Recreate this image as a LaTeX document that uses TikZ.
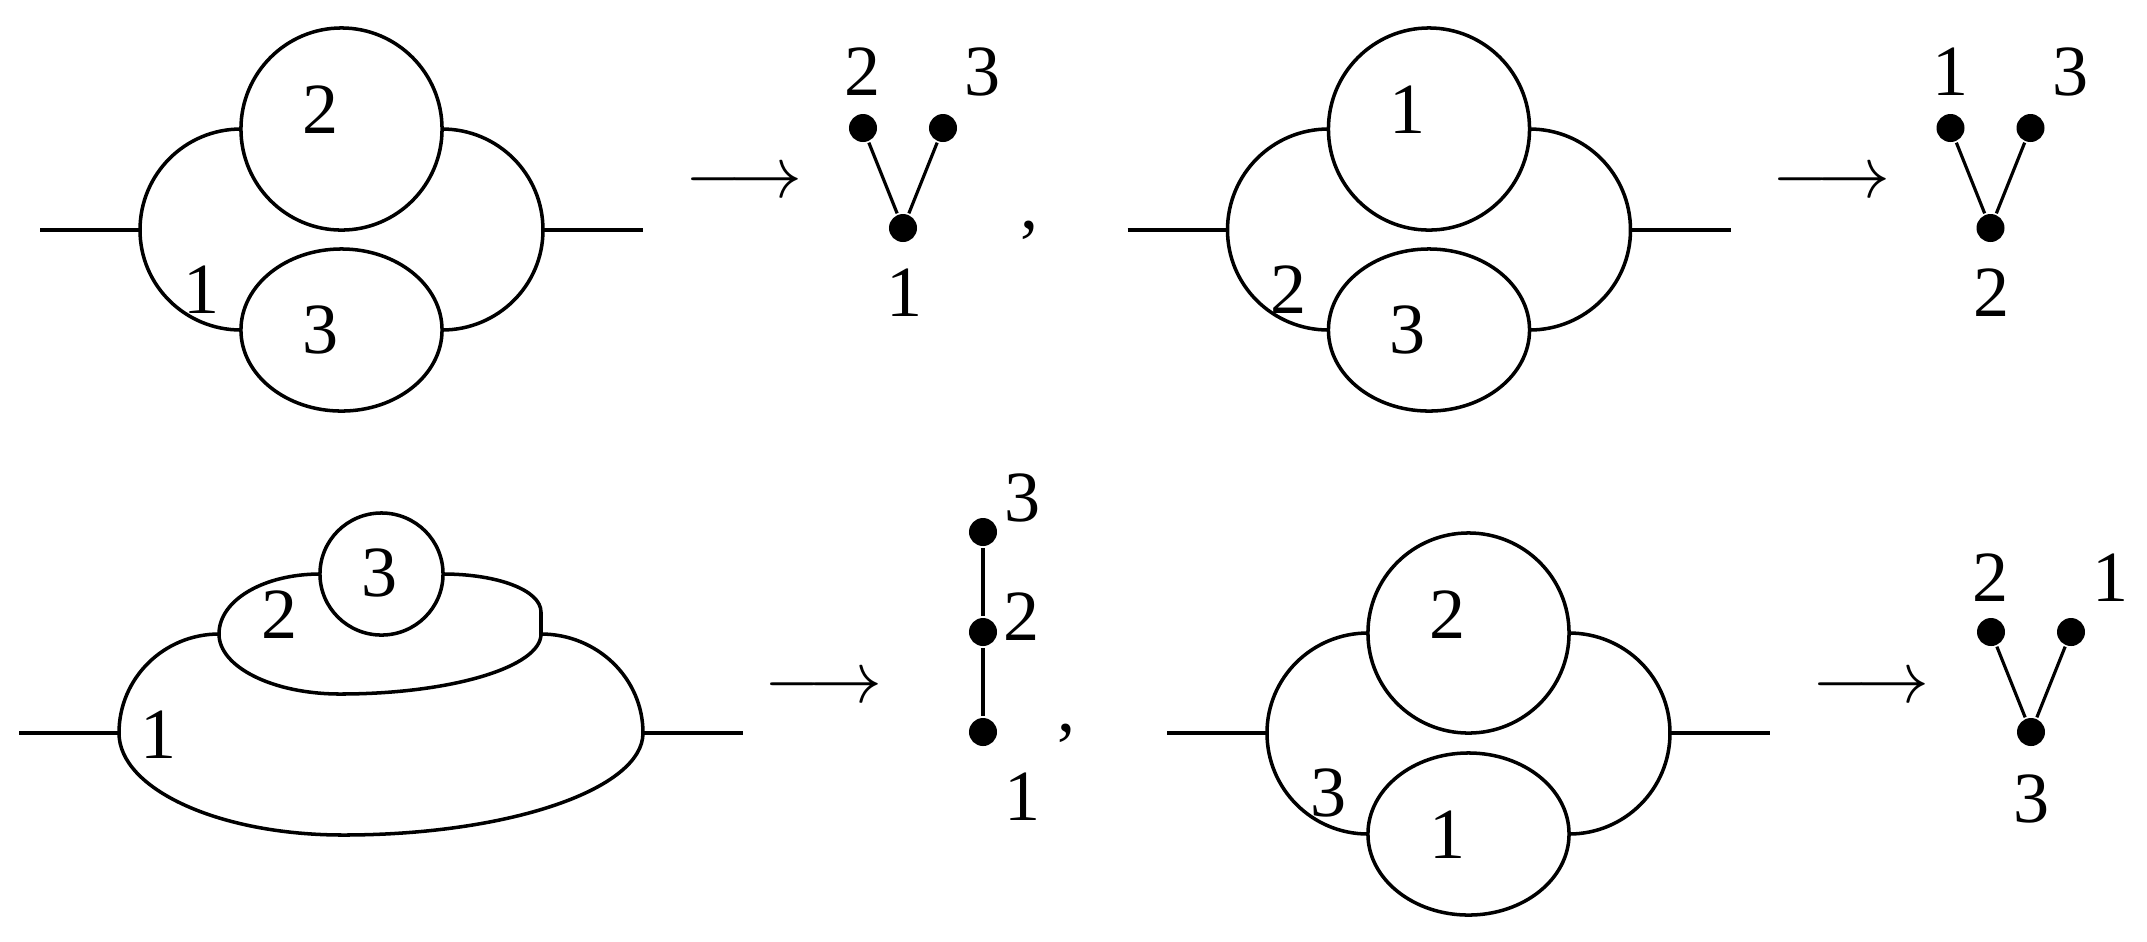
\documentclass[tikz,border=0pt]{standalone}
\usepackage{fontspec}
\setmainfont{Liberation Serif}
\usetikzlibrary{shapes.geometric}
\tikzset{
    blob/.style={ellipse, draw, inner sep=0pt, outer sep=0pt},
    dot/.style={circle, fill, inner sep=0pt, minimum size=0.28cm},
    twig/.style={line width=0.9pt},
    every node/.append style={font=\fontsize{20.5}{24}\selectfont}
}

\begin{document}
\begin{tikzpicture}[x=0.01cm, y=-0.01cm, line width=1pt]
\useasboundingbox (0,0) rectangle (2147,941);
% top left
\begin{scope}[shift={(341.5,230)}]
\coordinate (Al) at (-301.5,0);
\coordinate (Aw) at (-201.5,0);
\coordinate (Ae) at (201.5,0);
\coordinate (Ar) at (301.5,0);
\node[blob, minimum width=2.01cm, minimum height=2.02cm] (At) at (0,-101) {};
\node[blob, minimum width=2.01cm, minimum height=1.62cm] (Ab) at (0,100) {};
\draw (Al) -- (Aw);
\draw (Ae) -- (Ar);
\draw (At.west) to[out=180,in=90] (Aw) to[out=-90,in=180] (Ab.west);
\draw (At.east) to[out=0,in=90] (Ae) to[out=-90,in=0] (Ab.east);
\node at (-21,-120) {2};
\node at (-21,100) {3};
\node at (-140,60) {1};
\node (Aarr) at (402.5,-46) {$\longrightarrow$};
\node[dot] (Ax) at (521.5,-102) {};
\node[dot] (Ay) at (601.5,-102) {};
\node[dot] (Az) at (561.5,-2) {};
\draw[twig] (Ax) -- (Az) -- (Ay);
\node at (521.5,-158) {2};
\node at (641.5,-158) {3};
\node at (563,63) {1};
\node at (688.5,0) {,};
\end{scope}
% top right
\begin{scope}[shift={(1429,230)}]
\coordinate (Bl) at (-301.5,0);
\coordinate (Bw) at (-201.5,0);
\coordinate (Be) at (201.5,0);
\coordinate (Br) at (301.5,0);
\node[blob, minimum width=2.01cm, minimum height=2.02cm] (Bt) at (0,-101) {};
\node[blob, minimum width=2.01cm, minimum height=1.62cm] (Bb) at (0,100) {};
\draw (Bl) -- (Bw);
\draw (Be) -- (Br);
\draw (Bt.west) to[out=180,in=90] (Bw) to[out=-90,in=180] (Bb.west);
\draw (Bt.east) to[out=0,in=90] (Be) to[out=-90,in=0] (Bb.east);
\node at (-21,-120) {1};
\node at (-21,100) {3};
\node at (-140,60) {2};
\node (Barr) at (402.5,-46) {$\longrightarrow$};
\node[dot] (Bx) at (521.5,-102) {};
\node[dot] (By) at (601.5,-102) {};
\node[dot] (Bz) at (561.5,-2) {};
\draw[twig] (Bx) -- (Bz) -- (By);
\node at (521.5,-158) {1};
\node at (641.5,-158) {3};
\node at (563,63) {2};
\end{scope}
% bottom left
\coordinate (Cl) at (19,733);
\coordinate (Cw) at (119,733);
\coordinate (Ce) at (643,733);
\coordinate (Cr) at (743,733);
\coordinate (Cs) at (343,835);
\coordinate (Cm) at (219,634);
\coordinate (Cn) at (340,694);
\coordinate (Cp) at (541,612);
\coordinate (Cq) at (541,634);
\node[blob, minimum width=1.23cm, minimum height=1.22cm] (Ct) at (381.5,574) {};
\draw (Cl) -- (Cw);
\draw (Ce) -- (Cr);
\draw (Ct.west) .. controls +(-56,0) and +(0,-34) .. (Cm)
  .. controls +(0,33) and +(-67,0) .. (Cn)
  .. controls +(111,0) and +(0,33) .. (Cq) -- (Cp)
  .. controls +(0,-22) and +(54,0) .. (Ct.east);
\draw (Cm) .. controls +(-55,0) and +(0,-55) .. (Cw)
  .. controls +(0,56) and +(-124,0) .. (Cs)
  .. controls +(166,0) and +(0,56) .. (Ce)
  .. controls +(0,-55) and +(56,0) .. (Cq);
\node at (380,573) {3};
\node at (280,615) {2};
\node at (159,735) {1};
\node (Carr) at (823.5,689) {$\longrightarrow$};
\node[dot] (Cx) at (983,532) {};
\node[dot] (Cy) at (983,632) {};
\node[dot] (Cz) at (983,732) {};
\draw[twig] (Cx) -- (Cy) -- (Cz);
\node at (1023,498) {3};
\node at (1022,617) {2};
\node at (1023,797) {1};
\node at (1067,733) {,};
% bottom right
\begin{scope}[shift={(1468.5,733)}]
\coordinate (Dl) at (-301.5,0);
\coordinate (Dw) at (-201.5,0);
\coordinate (De) at (201.5,0);
\coordinate (Dr) at (301.5,0);
\node[blob, minimum width=2.01cm, minimum height=2.0cm] (Dt) at (0,-100) {};
\node[blob, minimum width=2.01cm, minimum height=1.62cm] (Db) at (0,101) {};
\draw (Dl) -- (Dw);
\draw (De) -- (Dr);
\draw (Dt.west) to[out=180,in=90] (Dw) to[out=-90,in=180] (Db.west);
\draw (Dt.east) to[out=0,in=90] (De) to[out=-90,in=0] (Db.east);
\node at (-21,-118) {2};
\node at (-21,102) {1};
\node at (-140,60) {3};
\node (Darr) at (402.5,-44) {$\longrightarrow$};
\node[dot] (Dx) at (522.5,-101) {};
\node[dot] (Dy) at (602.5,-101) {};
\node[dot] (Dz) at (562.5,-1) {};
\draw[twig] (Dx) -- (Dz) -- (Dy);
\node at (522.5,-155) {2};
\node at (642.5,-155) {1};
\node at (563,66) {3};
\end{scope}
\end{tikzpicture}
\end{document}
